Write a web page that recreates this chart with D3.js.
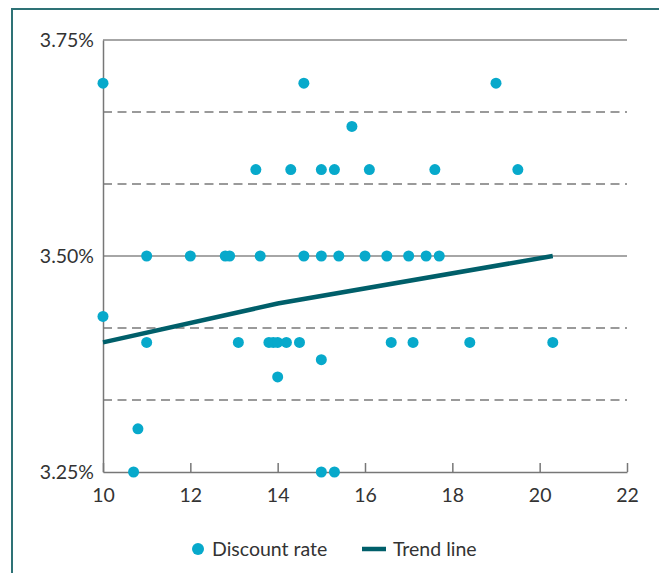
<!DOCTYPE html>
<html>
<head>
<meta charset="utf-8">
<script src="https://cdn.jsdelivr.net/npm/d3@7"></script>
<style>
  html, body { margin: 0; padding: 0; background: #fff; }
  svg { display: block; }
  text { font-family: Lato, "Open Sans", sans-serif; fill: #333; }
</style>
</head>
<body>
<svg id="chart" width="659" height="573"></svg>
<script>
// Discount rate observations: x value and rate (%)
const pointX = [10, 14.6, 19.0,
  15.7,
  13.5, 14.3, 15.0, 15.3, 16.1, 17.6, 19.5,
  11, 12, 12.8, 12.9, 13.6, 14.6, 15.0, 15.4, 16.0, 16.5, 17.0, 17.4, 17.7,
  10,
  11, 13.1, 13.8, 13.9, 14.0, 14.2, 14.5, 16.6, 17.1, 18.4, 20.3,
  15.0,
  14.0,
  10.8,
  10.7, 15.0, 15.3];
const pointY = [3.70, 3.70, 3.70,
  3.65,
  3.60, 3.60, 3.60, 3.60, 3.60, 3.60, 3.60,
  3.50, 3.50, 3.50, 3.50, 3.50, 3.50, 3.50, 3.50, 3.50, 3.50, 3.50, 3.50, 3.50,
  3.43,
  3.40, 3.40, 3.40, 3.40, 3.40, 3.40, 3.40, 3.40, 3.40, 3.40, 3.40,
  3.38,
  3.36,
  3.30,
  3.25, 3.25, 3.25];
// Trend line
const trendX = [10, 14.0, 20.3];
const trendY = [3.40, 3.445, 3.50];
// Ticks
const xTicks = [10, 12, 14, 16, 18, 20, 22];
const yLabelTicks = [3.25, 3.50, 3.75];
const yDashedTicks = [3.25 + 1/12, 3.25 + 2/12, 3.50 + 1/12, 3.50 + 2/12];
const legendLabels = ["Discount rate", "Trend line"];

const svg = d3.select("#chart");
const mLeft = 103, mRight = 627, mTop = 40, mBottom = 472;
const x = d3.scaleLinear().domain([10, 22]).range([mLeft, mRight]);
const y = d3.scaleLinear().domain([3.25, 3.75]).range([mBottom, mTop]);

const pointColor = "#07a9cb";
const trendColor = "#005f6a";
const gridColor = "#7a7a7a";
const fontSize = 19.5;

// Outer frame (top and left)
svg.append("path")
  .attr("d", `M12,580 L12,9 L670,9`)
  .attr("fill", "none")
  .attr("stroke", "#2e7276")
  .attr("stroke-width", 2);

// Dashed grid
svg.append("g").selectAll("line").data(yDashedTicks).join("line")
  .attr("x1", mLeft).attr("x2", mRight)
  .attr("y1", d => y(d)).attr("y2", d => y(d))
  .attr("stroke", gridColor).attr("stroke-width", 1.3)
  .attr("stroke-dasharray", "9,5.5");

// Solid grid at labelled ticks (3.50, 3.75)
svg.append("g").selectAll("line").data(yLabelTicks.slice(1)).join("line")
  .attr("x1", mLeft).attr("x2", mRight)
  .attr("y1", d => y(d)).attr("y2", d => y(d))
  .attr("stroke", "#888").attr("stroke-width", 1.5);

// Y axis
const yAxis = d3.axisLeft(y).tickValues(yLabelTicks).tickSize(0).tickPadding(9)
  .tickFormat(d => d3.format(".2f")(d) + "%");
const gy = svg.append("g").attr("transform", `translate(${mLeft},0)`).call(yAxis);
gy.select(".domain").attr("stroke", "#777").attr("stroke-width", 1.5);
gy.selectAll("text").attr("font-size", fontSize).attr("fill", "#333")
  .style("font-family", "Lato, 'Open Sans', sans-serif");

// X axis with inward ticks
const xAxis = d3.axisBottom(x).tickValues(xTicks).tickSizeInner(-9).tickSizeOuter(0).tickPadding(16);
const gx = svg.append("g").attr("transform", `translate(0,${mBottom})`).call(xAxis);
gx.select(".domain").attr("stroke", "#777").attr("stroke-width", 1.5);
gx.selectAll(".tick line").attr("stroke", "#777").attr("stroke-width", 1.5);
gx.selectAll("text").attr("font-size", fontSize).attr("fill", "#333")
  .style("font-family", "Lato, 'Open Sans', sans-serif");

// Trend line
const trendData = trendX.map((d, i) => [d, trendY[i]]);
svg.append("path")
  .datum(trendData)
  .attr("d", d3.line().x(d => x(d[0])).y(d => y(d[1])))
  .attr("fill", "none")
  .attr("stroke", trendColor)
  .attr("stroke-width", 4.5);

// Points
const pts = pointX.map((d, i) => [d, pointY[i]]);
svg.append("g").selectAll("circle").data(pts).join("circle")
  .attr("cx", d => x(d[0])).attr("cy", d => y(d[1]))
  .attr("r", 5.5)
  .attr("fill", pointColor);

// Legend
const lg = svg.append("g");
lg.append("circle").attr("cx", 198).attr("cy", 549).attr("r", 6).attr("fill", pointColor);
lg.append("text").attr("x", 212).attr("y", 556).attr("font-size", fontSize).text(legendLabels[0]);
lg.append("line").attr("x1", 362).attr("x2", 386).attr("y1", 549).attr("y2", 549)
  .attr("stroke", trendColor).attr("stroke-width", 4.5);
lg.append("text").attr("x", 393).attr("y", 556).attr("font-size", fontSize).text(legendLabels[1]);
</script>
</body>
</html>
